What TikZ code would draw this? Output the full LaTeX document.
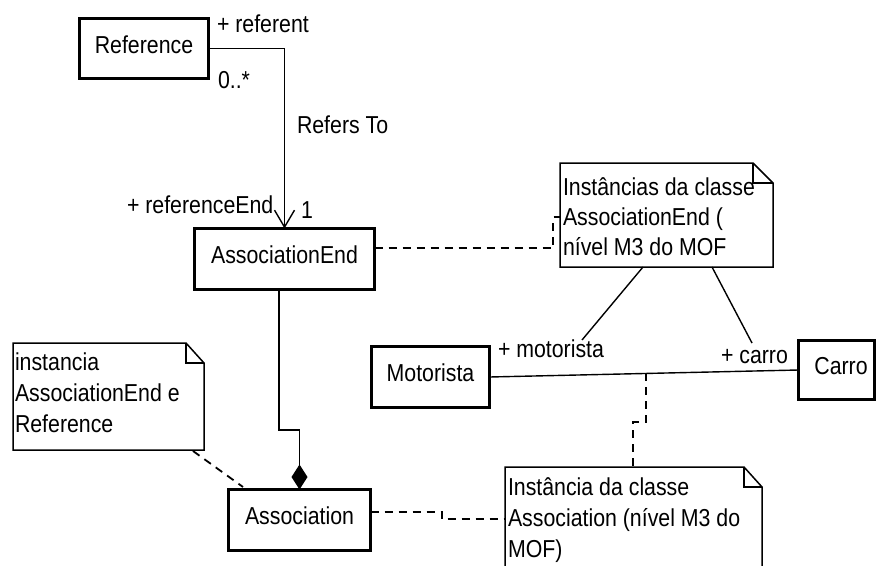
\documentclass[tikz,border=0pt]{standalone}
\usepackage{fontspec}
\setmainfont{Liberation Sans}[FakeStretch=0.87]
\usetikzlibrary{arrows.meta}
\begin{document}
\begin{tikzpicture}[x=1pt,y=-1pt,
  every node/.style={font=\fontsize{24.5}{30}\selectfont, inner sep=0pt, outer sep=0pt},
  classbox/.style={draw, line width=3pt, text height=17pt, text depth=8pt},
  txt/.style={anchor=base west},
  link/.style={line width=1.4pt},
  notelink/.style={line width=1.8pt, dash pattern=on 8pt off 6pt},
  noteedge/.style={line width=1.5pt, line join=miter},
]
\useasboundingbox (0,0) rectangle (877,565);

% ---------- classes ----------
\node[classbox, minimum width=129, minimum height=60] (ref)   at (144,48.5)  {Reference};
\node[classbox, minimum width=180, minimum height=61] (aend)  at (284.5,259) {AssociationEnd};
\node[classbox, minimum width=142, minimum height=61] (assoc) at (299.5,520) {Association};
\node[classbox, minimum width=118, minimum height=61] (mot)   at (430.5,377) {Motorista};
\node[classbox, minimum width=76,  minimum height=59] (carro) at (836.5,370) {\hspace*{9pt}Carro};

% ---------- note outlines ----------
\node[minimum width=191, minimum height=107] (noteL) at (108.5,396.5) {};
\node[minimum width=213, minimum height=104] (noteU) at (666.5,215) {};
\node[minimum width=257, minimum height=133] (noteB) at (633.5,533.5) {};

\draw[noteedge] (noteL.south west) -- (noteL.north west) -- ([xshift=-18pt]noteL.north east)
  -- ([yshift=-20pt]noteL.north east) -- (noteL.south east) -- cycle;
\draw[noteedge] ([xshift=-18pt]noteL.north east) -- ++(0,20) -- ++(18,0);

\draw[noteedge] (noteU.south west) -- (noteU.north west) -- ([xshift=-20pt]noteU.north east)
  -- ([yshift=-20pt]noteU.north east) -- (noteU.south east) -- cycle;
\draw[noteedge] ([xshift=-20pt]noteU.north east) -- ++(0,20) -- ++(20,0);

\draw[noteedge] (noteB.south west) -- (noteB.north west) -- ([xshift=-18pt]noteB.north east)
  -- ([yshift=-20pt]noteB.north east) -- (noteB.south east);
\draw[noteedge] ([xshift=-18pt]noteB.north east) -- ++(0,20) -- ++(18,0);

% ---------- note texts ----------
\node[txt] (tL1) at (15,370) {instancia};
\node[txt] (tL2) at (15,401) {AssociationEnd e};
\node[txt] (tL3) at (15,432) {Reference};

\node[txt] (tU1) at (563,195) {Instâncias da classe};
\node[txt] (tU2) at (563,225) {AssociationEnd (};
\node[txt] (tU3) at (563,255) {nível M3 do MOF};

\node[txt] (tB1) at (508,495) {Instância da classe};
\node[txt] (tB2) at (508,526) {Association (nível M3 do};
\node[txt] (tB3) at (508,557) {MOF)};

% ---------- associations ----------
\draw[link, -{Straight Barb[length=17pt,width=20pt,line width=1.4pt]}]
  (ref.east) -| (aend.north);
\node[txt] (lRef)   at (217,32)  {+ referent};
\node[txt] (lMany)  at (218,88)  {0..*};
\node[txt] (lName)  at (297,133) {Refers To};
\node[txt] (lEnd)   at (127,213) {+ referenceEnd};
\node[txt] (lOne)   at (301,218) {1};

\coordinate (jog) at (279,430);
\draw[link, -{Diamond[length=25pt,width=16pt]}]
  (aend.south -| jog) -- (jog) -| (assoc.north);

\draw[link] (mot.east) -- (carro.west);
\node[txt] (lMot)   at (498,357) {+ motorista};
\node[txt] (lCarro) at (721,363) {+ carro};

% ---------- note attachments ----------
\coordinate (uA) at (643,267);
\coordinate (uB) at (582,340);
\coordinate (uC) at (712,267);
\coordinate (uD) at (752,343);
\draw[link] (uA) -- (uB);
\draw[link] (uC) -- (uD);

\coordinate (e1) at (553,248);
\coordinate (e2) at (553,217);
\draw[notelink] (aend.east |- e1) -- (e1) -- (e2) -- (noteU.west |- e2);

\coordinate (d1) at (193,451);
\coordinate (d2) at (243,487);
\draw[notelink] (d1) -- (d2);

\coordinate (a1) at (442,512);
\coordinate (a2) at (442,519);
\draw[notelink] (assoc.east |- a1) -- (a1) -- (a2) -- (noteB.west |- a2);

\coordinate (m1) at (646,373);
\coordinate (m2) at (646,422);
\coordinate (m3) at (633,422);
\draw[notelink] (m1) -- (m2) -- (m3) -- (noteB.north -| m3);
\end{tikzpicture}
\end{document}
